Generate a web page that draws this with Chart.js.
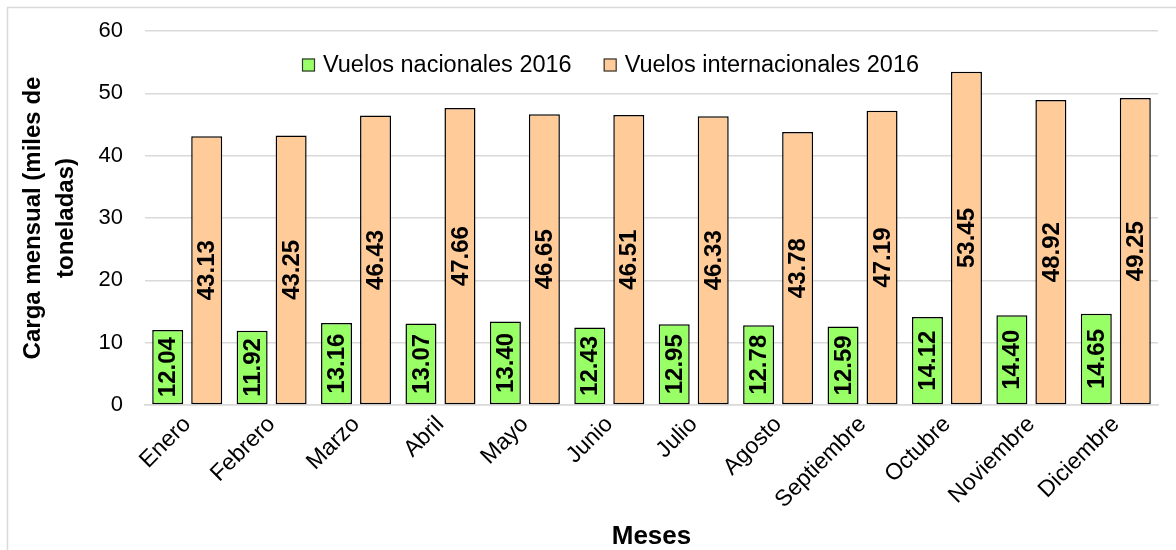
<!DOCTYPE html>
<html>
<head>
<meta charset="utf-8">
<script src="https://cdn.jsdelivr.net/npm/chart.js@4"></script>
<style>
  html, body { margin: 0; padding: 0; background: #fff; }
  #wrap { width: 1176px; height: 550px; }
</style>
</head>
<body>
<div id="wrap"><canvas id="cargaChart"></canvas></div>
<script>
// datos
const meses = ['Enero', 'Febrero', 'Marzo', 'Abril', 'Mayo', 'Junio', 'Julio',
               'Agosto', 'Septiembre', 'Octubre', 'Noviembre', 'Diciembre'];
const nacionales = [12.04, 11.92, 13.16, 13.07, 13.40, 12.43, 12.95, 12.78, 12.59, 14.12, 14.40, 14.65];
const internacionales = [43.13, 43.25, 46.43, 47.66, 46.65, 46.51, 46.33, 43.78, 47.19, 53.45, 48.92, 49.25];
const ticksY = [0, 10, 20, 30, 40, 50, 60];

Chart.defaults.font.family = '"Liberation Sans", Arial, sans-serif';
Chart.defaults.color = '#000';

// etiquetas de valor, giradas, en el centro de cada barra
const etiquetas = {
    id: 'etiquetas',
    afterDatasetsDraw(chart) {
        const ctx = chart.ctx;
        ctx.save();
        ctx.font = 'bold 24px "Liberation Sans", Arial, sans-serif';
        ctx.fillStyle = '#000';
        ctx.textAlign = 'center';
        ctx.textBaseline = 'middle';
        chart.data.datasets.forEach((ds, i) => {
            chart.getDatasetMeta(i).data.forEach((bar, j) => {
                const y = (bar.y + bar.base) / 2;
                ctx.save();
                ctx.translate(bar.x + 1, y);
                ctx.rotate(-Math.PI / 2);
                ctx.fillText(ds.data[j].toFixed(2), 0, 0);
                ctx.restore();
            });
        });
        ctx.restore();
    }
};

// leyenda dentro del área del gráfico
const leyenda = {
    id: 'leyenda',
    afterDraw(chart) {
        const ctx = chart.ctx;
        const area = chart.chartArea;
        let x = area.left + 157;
        const y = area.top + 34;
        ctx.save();
        ctx.font = '23.5px "Liberation Sans", Arial, sans-serif';
        ctx.textBaseline = 'middle';
        ctx.textAlign = 'left';
        chart.data.datasets.forEach(ds => {
            ctx.fillStyle = ds.backgroundColor;
            ctx.fillRect(x, y - 6.5, 13, 13);
            ctx.strokeStyle = '#333';
            ctx.lineWidth = 1.2;
            ctx.strokeRect(x + 0.5, y - 6, 12, 12);
            ctx.fillStyle = '#000';
            ctx.fillText(ds.label, x + 21, y + 1);
            x += 21 + ctx.measureText(ds.label).width + 32;
        });
        ctx.restore();
    }
};

// marco gris exterior
const marco = {
    id: 'marco',
    afterDraw(chart) {
        const ctx = chart.ctx;
        ctx.save();
        ctx.strokeStyle = '#d9d9d9';
        ctx.lineWidth = 1.5;
        ctx.beginPath();
        ctx.moveTo(7.5, chart.height);
        ctx.lineTo(7.5, 7.5);
        ctx.lineTo(chart.width, 7.5);
        ctx.stroke();
        ctx.restore();
    }
};

new Chart(document.getElementById('cargaChart'), {
    type: 'bar',
    data: {
        labels: meses,
        datasets: [{
            label: 'Vuelos nacionales 2016',
            data: nacionales,
            backgroundColor: '#99FF66',
            borderColor: '#000',
            borderWidth: 1.5,
            borderSkipped: false
        }, {
            label: 'Vuelos internacionales 2016',
            data: internacionales,
            backgroundColor: '#FFCC99',
            borderColor: '#000',
            borderWidth: 1.5,
            borderSkipped: false
        }]
    },
    options: {
        responsive: true,
        maintainAspectRatio: false,
        animation: false,
        layout: { padding: { top: 31, left: 10, right: 18, bottom: 0 } },
        datasets: { bar: { categoryPercentage: 0.924, barPercentage: 0.795 } },
        scales: {
            x: {
                grid: { display: false, drawTicks: false },
                border: { display: true, color: '#d9d9d9', width: 1.5 },
                ticks: { minRotation: 45, maxRotation: 45, padding: 6, font: { size: 23 } },
                afterFit: axis => { axis.height = 145; },
                title: {
                    display: true, text: 'Meses',
                    font: { size: 26, weight: 'bold', lineHeight: 1 },
                    padding: { top: 8, bottom: 0 }
                }
            },
            y: {
                min: 0, max: 60,
                afterBuildTicks: axis => { axis.ticks = ticksY.map(v => ({ value: v })); },
                afterFit: axis => {
                    axis.width = 135;
                    axis.paddingTop = 0;
                    axis.paddingBottom = 0;
                },
                grid: { color: '#d9d9d9', lineWidth: 1.5, drawTicks: false },
                border: { display: false },
                ticks: { padding: 22, font: { size: 22 } },
                title: {
                    display: true, text: ['Carga mensual (miles de', 'toneladas)'],
                    font: { size: 24, weight: 'bold', lineHeight: 1.375 },
                    padding: { top: 7, bottom: 0 }
                }
            }
        },
        plugins: {
            legend: { display: false },
            tooltip: { enabled: false }
        }
    },
    plugins: [etiquetas, leyenda, marco]
});
</script>
</body>
</html>
